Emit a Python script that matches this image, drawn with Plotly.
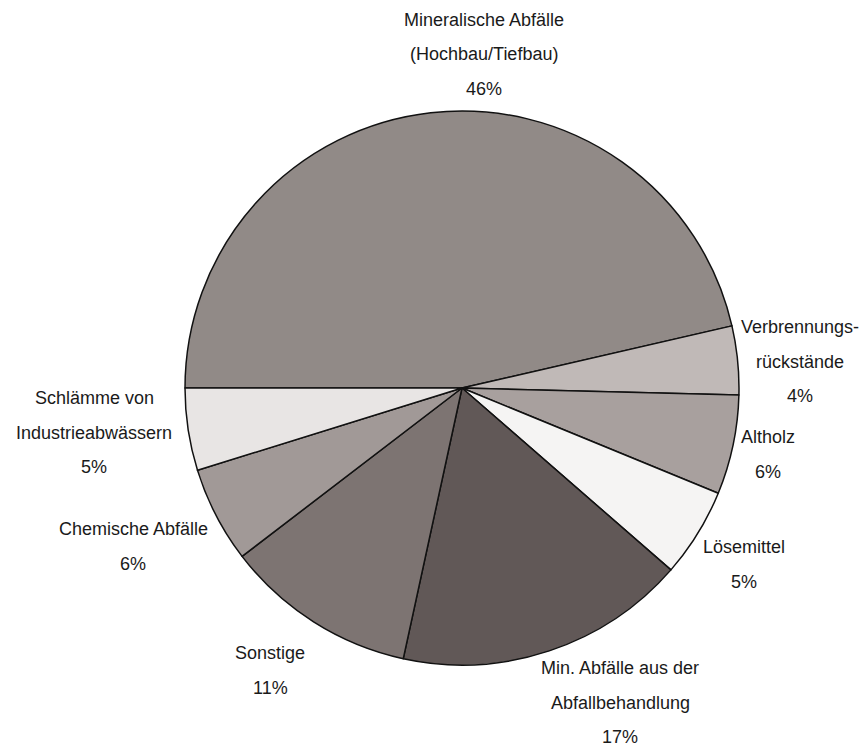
import plotly.graph_objects as go

W, H = 865, 746

categories = [
    "Mineralische Abfälle (Hochbau/Tiefbau)",
    "Verbrennungsrückstände",
    "Altholz",
    "Lösemittel",
    "Min. Abfälle aus der Abfallbehandlung",
    "Sonstige",
    "Chemische Abfälle",
    "Schlämme von Industrieabwässern",
]
values = [46.4, 4.0, 5.8, 5.2, 17.0, 11.2, 5.6, 4.8]
colors = ["#918a87", "#c0b9b7", "#a8a09e", "#f5f4f3", "#615857", "#7d7472", "#a19997", "#e8e5e4"]

# label lines (text) per slice
label_lines = [
    ["Mineralische Abfälle", "(Hochbau/Tiefbau)"],
    ["Verbrennungs-", "rückstände"],
    ["Altholz"],
    ["Lösemittel"],
    ["Min. Abfälle aus der", "Abfallbehandlung"],
    ["Sonstige"],
    ["Chemische Abfälle"],
    ["Schlämme von", "Industrieabwässern"],
]
# layout: pixel position (center x, first line y) and line spacing
label_pos = [(484, 20), (800, 327), (768, 437), (744, 547), (620, 668), (270, 653), (133, 529), (94, 398)]
line_gap = 34.5

cx, cy, r = 462, 388, 277

fig = go.Figure(go.Pie(
    labels=categories,
    values=values,
    sort=False,
    direction="clockwise",
    rotation=270,
    marker=dict(colors=colors, line=dict(color="#111111", width=1.5)),
    textinfo="none",
    hoverinfo="label+percent",
    showlegend=False,
    domain=dict(x=[(cx - r) / W, (cx + r) / W], y=[1 - (cy + r) / H, 1 - (cy - r) / H]),
))

total = sum(values)
font = dict(family="Liberation Sans, Arial", size=18, color="#1a1a1a")
annotations = []
for lines, (x, y), v in zip(label_lines, label_pos, values):
    texts = lines + [f"{round(v / total * 100):.0f}%"]
    for i, t in enumerate(texts):
        annotations.append(dict(
            x=x / W, y=1 - (y + i * line_gap) / H, xref="paper", yref="paper",
            text=t, showarrow=False, xanchor="center", yanchor="middle", font=font,
        ))

fig.update_layout(
    width=W, height=H,
    margin=dict(l=0, r=0, t=0, b=0),
    paper_bgcolor="white", plot_bgcolor="white",
    annotations=annotations,
)

fig.write_html("out.html")
